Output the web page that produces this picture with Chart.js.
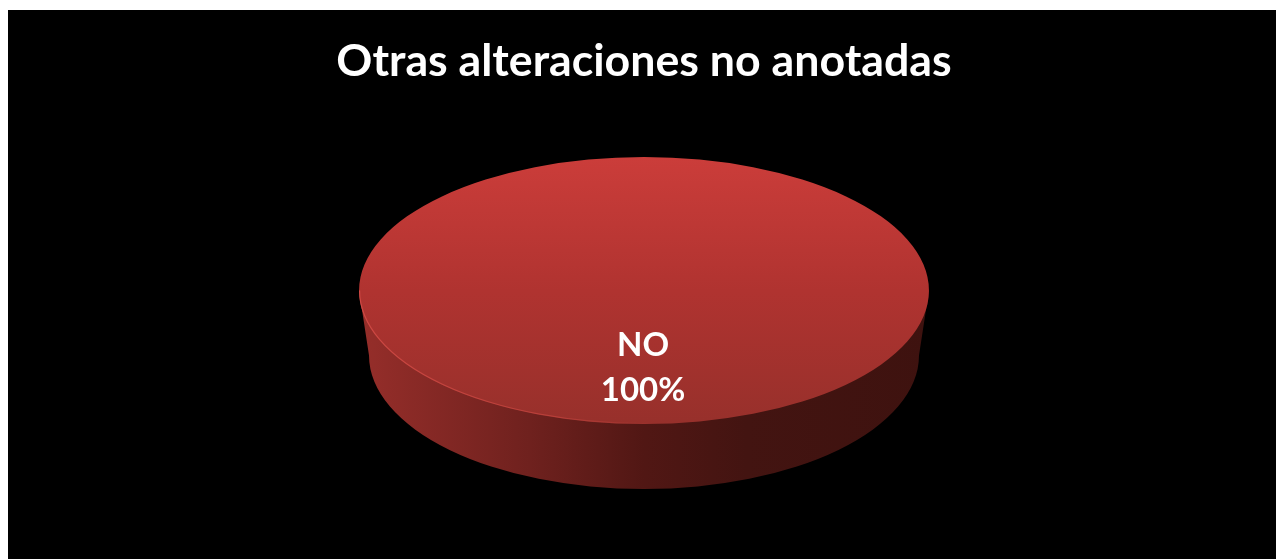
<!DOCTYPE html>
<html>
<head>
<meta charset="utf-8">
<style>
html,body{margin:0;padding:0;background:#fff;width:1276px;height:559px;overflow:hidden}
#c{position:absolute;left:8px;top:10px;background:#000}
</style>
<script src="https://cdn.jsdelivr.net/npm/chart.js@4"></script>
</head>
<body>
<canvas id="c" width="1268" height="549"></canvas>
<script>
const chartTitle = 'Otras alteraciones no anotadas';
const categories = ['NO'];
const values = [100];
const percentLabels = ['100%'];

const STRETCH_X = 285 / 133.5;
const DEPTH = 65;
const BOTTOM_RX = 0.965;

function topFill(c) {
  const a = c.chart.chartArea;
  if (!a) return '#b03330';
  const g = c.chart.ctx.createLinearGradient(0, a.top, 0, a.bottom);
  g.addColorStop(0, '#cb3d3a');
  g.addColorStop(0.5, '#b03330');
  g.addColorStop(1, '#97302b');
  return g;
}

const disc3d = {
  id: 'disc3d',
  beforeDatasetsDraw(chart) {
    const ctx = chart.ctx, arc = chart.getDatasetMeta(0).data[0];
    const rx = arc.outerRadius * STRETCH_X, ry = arc.outerRadius;
    const g = ctx.createLinearGradient(arc.x - rx, 0, arc.x + rx, 0);
    g.addColorStop(0, '#962e2a');
    g.addColorStop(0.3, '#6f211e');
    g.addColorStop(0.5, '#511714');
    g.addColorStop(0.68, '#431411');
    g.addColorStop(1, '#3e120f');
    ctx.save();
    ctx.fillStyle = g;
    ctx.beginPath();
    ctx.moveTo(arc.x - rx, arc.y);
    ctx.lineTo(arc.x - rx * BOTTOM_RX, arc.y + DEPTH);
    ctx.ellipse(arc.x, arc.y + DEPTH, rx * BOTTOM_RX, ry, 0, Math.PI, 0, true);
    ctx.lineTo(arc.x + rx, arc.y);
    ctx.closePath();
    ctx.fill();
    ctx.restore();
    ctx.save();
    ctx.translate(arc.x, 0);
    ctx.scale(STRETCH_X, 1);
    ctx.translate(-arc.x, 0);
  },
  afterDatasetsDraw(chart) {
    const ctx = chart.ctx, arc = chart.getDatasetMeta(0).data[0];
    ctx.restore();
    const rx = arc.outerRadius * STRETCH_X, ry = arc.outerRadius;
    const rim = ctx.createLinearGradient(arc.x - rx, 0, arc.x + rx, 0);
    rim.addColorStop(0, 'rgba(222,82,76,0.7)');
    rim.addColorStop(0.35, 'rgba(210,74,68,0.55)');
    rim.addColorStop(0.52, 'rgba(200,70,64,0)');
    ctx.save();
    ctx.strokeStyle = rim;
    ctx.lineWidth = 1.2;
    ctx.beginPath();
    ctx.ellipse(arc.x, arc.y, rx - 0.5, ry - 0.5, 0, Math.PI, 0, true);
    ctx.stroke();
    ctx.fillStyle = '#fff';
    ctx.font = 'bold 33px Lato';
    ctx.textAlign = 'center';
    ctx.textBaseline = 'middle';
    ctx.fillText(categories[0], arc.x - 1, arc.y + 55);
    ctx.fillText(percentLabels[0], arc.x - 1, arc.y + 100);
    ctx.restore();
  }
};

new Chart(document.getElementById('c'), {
  type: 'pie',
  data: {
    labels: categories,
    datasets: [{
      data: values,
      backgroundColor: topFill,
      borderWidth: 0,
      clip: false
    }]
  },
  plugins: [disc3d],
  options: {
    responsive: false,
    animation: false,
    layout: { padding: { left: 4, bottom: 135 } },
    plugins: {
      legend: { display: false },
      tooltip: { enabled: false },
      title: {
        display: true,
        text: chartTitle,
        color: '#fff',
        font: { family: 'Lato', weight: 'bold', size: 44.7, lineHeight: 1.2 },
        padding: { top: 24.4, bottom: 69 }
      }
    }
  }
});
</script>
</body>
</html>
